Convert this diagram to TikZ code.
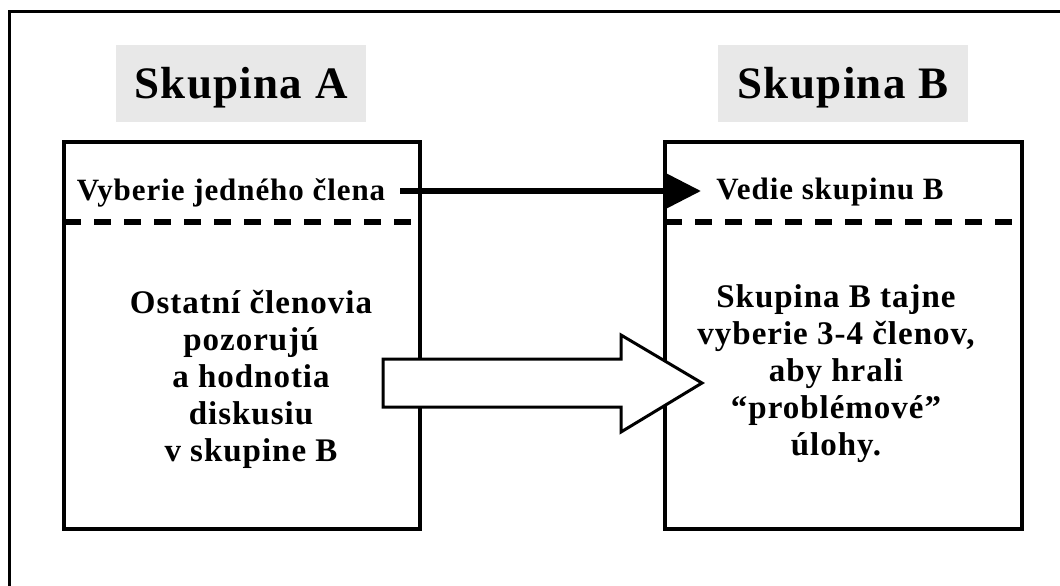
\documentclass[tikz,border=0pt]{standalone}
\usepackage{fontspec}
\setmainfont{Liberation Serif}[LetterSpace=3]
\usetikzlibrary{arrows.meta}
\definecolor{titlegray}{HTML}{E8E8E8}
\begin{document}
\begin{tikzpicture}[x=1pt,y=-1pt,
  titlebox/.style={fill=titlegray, minimum width=250pt, text height=54pt, text depth=23pt, inner sep=0pt, font=\fontsize{45}{50}\selectfont\bfseries},
  groupbox/.style={draw, line width=4pt, minimum height=387pt, inner sep=0pt},
  linetext/.style={inner sep=0pt, font=\fontsize{31}{37}\selectfont\bfseries},
  bodytext/.style={inner sep=0pt, align=center, font=\fontsize{33}{37}\selectfont\bfseries},
  divider/.style={line width=6pt, dash pattern=on 17pt off 13pt},
  frameline/.style={line width=3pt},
  picksarrow/.style={line width=6pt, -{Triangle[length=35pt,width=34pt]}},
  bigarrow/.style={draw, line width=3pt, fill=white, line join=miter}
]
\useasboundingbox (0,0) rectangle (1060,586);
\draw[frameline] (1063,12) -- (9,12) -- (9,589);
\node[titlebox] (titleA) at (241,83.5) {Skupina A};
\node[titlebox] (titleB) at (843,83.5) {Skupina B};
\node[groupbox, minimum width=356pt] (boxA) at (242,335.5) {};
\node[groupbox, minimum width=357pt] (boxB) at (843.5,335.5) {};
\draw[divider] (64,222) -- (420,222);
\draw[divider] (665,222) -- (1022,222);
\node[linetext, anchor=base] (selA) at (231,200) {Vyberie jedného člena};
\node[linetext, anchor=base] (leadB) at (830,199) {Vedie skupinu B};
\coordinate (pickStart) at (400,191);
\coordinate (pickEnd) at (701,191);
\draw[picksarrow] (pickStart) -- (pickEnd);
\draw[bigarrow] (383,359) -- (621,359) -- (621,335) -- (702,383) -- (621,432) -- (621,407) -- (383,407) -- cycle;
\node[bodytext, anchor=base] (observe) at (251,461) {Ostatní členovia\\pozorujú\\a hodnotia\\diskusiu\\v skupine B};
\node[bodytext, anchor=base] (secret) at (836,455) {Skupina B tajne\\vyberie 3-4 členov,\\aby hrali\\“problémové”\\úlohy.};
\end{tikzpicture}
\end{document}
